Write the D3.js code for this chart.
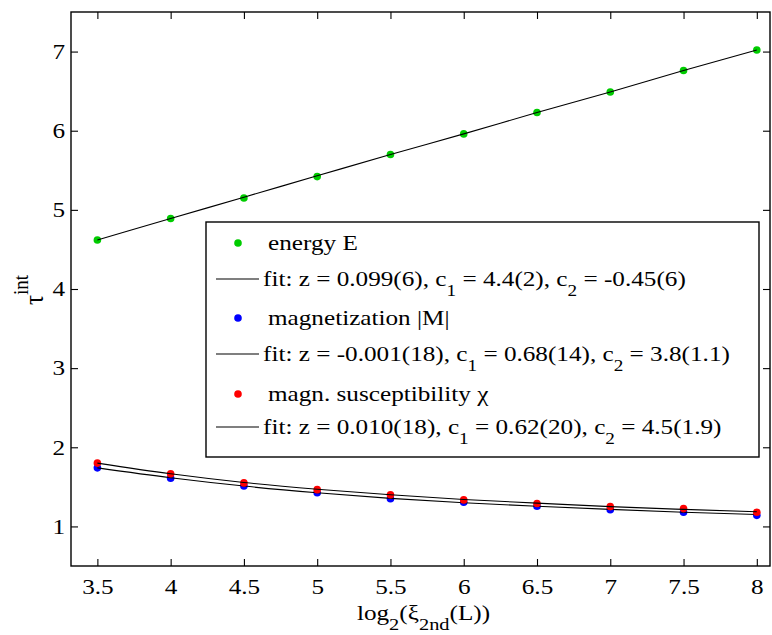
<!DOCTYPE html>
<html>
<head>
<meta charset="utf-8">
<script src="https://cdn.jsdelivr.net/npm/d3@7"></script>
<style>
  body { margin: 0; background: #fff; }
  svg { display: block; }
  svg text { font-family: "Liberation Serif", "Times New Roman", serif; }
</style>
</head>
<body>
<div id="chart"></div>
<script>
// data
const xVals = [3.5, 4, 4.5, 5, 5.5, 6, 6.5, 7, 7.5, 8]
const energy = [4.62, 4.89, 5.15, 5.42, 5.70, 5.96, 6.23, 6.49, 6.76, 7.02]
const energyFit = [4.62, 4.89, 5.16, 5.43, 5.70, 5.96, 6.23, 6.49, 6.76, 7.02]
const magn = [1.74, 1.61, 1.51, 1.425, 1.35, 1.305, 1.255, 1.21, 1.18, 1.14]
const magnFit = [1.74, 1.615, 1.51, 1.425, 1.355, 1.30, 1.255, 1.215, 1.18, 1.15]
const susc = [1.80, 1.665, 1.55, 1.465, 1.40, 1.335, 1.29, 1.25, 1.225, 1.18]
const suscFit = [1.80, 1.665, 1.555, 1.47, 1.40, 1.34, 1.295, 1.25, 1.215, 1.185]
const xTicks = [3.5, 4, 4.5, 5, 5.5, 6, 6.5, 7, 7.5, 8]
const yTicks = [1, 2, 3, 4, 5, 6, 7]

const series = [
  { name: "energy E", values: energy, fit: energyFit, color: "#00cc00",
    fitText: ["fit: z = 0.099(6), c", "1", " = 4.4(2), c", "2", " = -0.45(6)"] },
  { name: "magnetization |M|", values: magn, fit: magnFit, color: "#0000ff",
    fitText: ["fit: z = -0.001(18), c", "1", " = 0.68(14), c", "2", " = 3.8(1.1)"] },
  { name: "magn. susceptibility \u03c7", values: susc, fit: suscFit, color: "#ff0000",
    fitText: ["fit: z = 0.010(18), c", "1", " = 0.62(20), c", "2", " = 4.5(1.9)"] },
]

const width = 772
const height = 635
const margin = { top: 12, right: 2, bottom: 69, left: 71 }

// the original figure is stretched a bit horizontally; text follows that
const sx = 1.2
const fontSize = 21
const subSize = 16
const radius = 3.8

const svg = d3.select("#chart")
  .append("svg")
  .attr("width", width)
  .attr("height", height)

const x = d3.scaleLinear().domain([3.32, 8.09]).range([margin.left, width - margin.right])
const y = d3.scaleLinear().domain([0.5, 7.5]).range([height - margin.bottom, margin.top])

const tickLen = 7

// axes, MATLAB style: box with inward ticks on all four sides
svg.append("g")
  .attr("transform", `translate(0,${y.range()[0]})`)
  .call(d3.axisBottom(x).tickValues(xTicks).tickSizeInner(-tickLen).tickSizeOuter(0).tickPadding(13).tickFormat(d3.format("")))
  .call(g => g.attr("font-family", null).attr("font-size", fontSize))
  .call(g => g.selectAll("text").attr("transform", `scale(${sx},1)`))
svg.append("g")
  .attr("transform", `translate(0,${y.range()[1]})`)
  .call(d3.axisTop(x).tickValues(xTicks).tickSizeInner(-tickLen).tickSizeOuter(0).tickFormat(""))
svg.append("g")
  .attr("transform", `translate(${x.range()[0]},0)`)
  .call(d3.axisLeft(y).tickValues(yTicks).tickSizeInner(-tickLen).tickSizeOuter(0).tickPadding(5).tickFormat(d3.format("d")))
  .call(g => g.attr("font-family", null).attr("font-size", fontSize))
  .call(g => g.selectAll("text").attr("transform", `scale(${sx},1)`))
svg.append("g")
  .attr("transform", `translate(${x.range()[1]},0)`)
  .call(d3.axisRight(y).tickValues(yTicks).tickSizeInner(-tickLen).tickSizeOuter(0).tickFormat(""))

svg.selectAll(".domain").remove()
svg.selectAll(".tick line").attr("stroke-width", 1.1)
svg.selectAll(".tick text").attr("fill", "#000")

svg.append("rect")
  .attr("x", x.range()[0])
  .attr("y", y.range()[1])
  .attr("width", x.range()[1] - x.range()[0])
  .attr("height", y.range()[0] - y.range()[1])
  .attr("fill", "none")
  .attr("stroke", "#000")
  .attr("stroke-width", 1.4)

// marks
const line = d3.line()
  .x((d, i) => x(xVals[i]))
  .y(d => y(d))
  .curve(d3.curveMonotoneX)

series.forEach(s => {
  svg.append("g")
    .selectAll("circle")
    .data(s.values)
    .join("circle")
    .attr("cx", (d, i) => x(xVals[i]))
    .attr("cy", d => y(d))
    .attr("r", radius)
    .attr("fill", s.color)

  svg.append("path")
    .datum(s.fit)
    .attr("d", line)
    .attr("fill", "none")
    .attr("stroke", "#000")
    .attr("stroke-width", 1.1)
})

// legend
const legend = svg.append("g")
legend.append("rect")
  .attr("x", 206).attr("y", 222)
  .attr("width", 553).attr("height", 235)
  .attr("fill", "#fff")
  .attr("stroke", "#000")
  .attr("stroke-width", 1.4)

const rowY = [[243, 279], [318, 354], [394, 427]]
series.forEach((s, i) => {
  const [ly, fy] = rowY[i]
  legend.append("circle")
    .attr("cx", 238).attr("cy", ly).attr("r", radius).attr("fill", s.color)
  legend.append("text")
    .attr("transform", `translate(268,${ly + 7}) scale(${sx},1)`)
    .attr("font-size", fontSize)
    .text(s.name)
  legend.append("line")
    .attr("x1", 216).attr("x2", 259)
    .attr("y1", fy).attr("y2", fy)
    .attr("stroke", "#000").attr("stroke-width", 1.1)
  const t = legend.append("text")
    .attr("transform", `translate(263,${fy + 7}) scale(${sx},1)`)
    .attr("font-size", fontSize)
  s.fitText.forEach((part, k) => {
    const sub = k % 2 === 1
    t.append("tspan")
      .attr("dy", sub ? 10 : (k === 0 ? 0 : -10))
      .attr("font-size", sub ? subSize : fontSize)
      .text(part)
  })
})

// axis labels
const xl = svg.append("text")
  .attr("transform", `translate(${(x.range()[0] + x.range()[1]) / 2 + 3},620) scale(${sx},1)`)
  .attr("text-anchor", "middle")
  .attr("font-size", fontSize)
xl.append("tspan").text("log")
xl.append("tspan").attr("dy", 10).attr("font-size", 17).text("2")
xl.append("tspan").attr("dy", -10).text("(\u03be")
xl.append("tspan").attr("dy", 10).attr("font-size", 17).text("2nd")
xl.append("tspan").attr("dy", -10).text("(L))")

const yl = svg.append("text")
  .attr("transform", "translate(43,290) scale(1.1,1) rotate(-90)")
  .attr("text-anchor", "middle")
  .attr("font-size", 25)
yl.append("tspan").text("\u03c4")
yl.append("tspan").attr("dy", -14).attr("font-size", 19).text("int")
</script>
</body>
</html>
